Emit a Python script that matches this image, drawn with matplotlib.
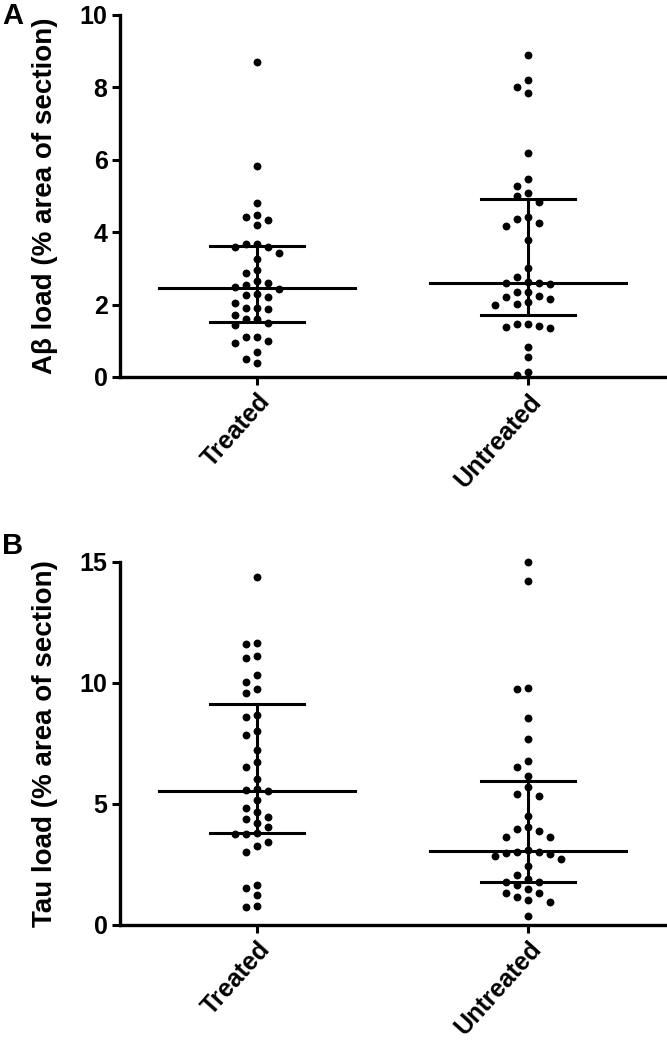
import numpy as np
import matplotlib
matplotlib.use('Agg')
import matplotlib.pyplot as plt

plt.rcParams['font.family'] = ['Liberation Sans', 'DejaVu Sans']
plt.rcParams['font.weight'] = 'bold'

groups = ['Treated', 'Untreated']

abeta_treated = [8.69, 5.84, 4.80, 4.43, 4.48, 4.34, 4.20, 3.67, 3.58, 3.58, 3.67, 3.42,
                 3.27, 2.96, 2.86, 2.61, 2.66, 2.54, 2.48, 2.42, 2.29, 2.27, 2.22, 2.04,
                 1.90, 1.90, 1.87, 1.71, 1.59, 1.48, 1.44, 1.11, 1.11, 0.99, 0.93, 0.68,
                 0.50, 0.40, 1.59]
abeta_untreated = [8.90, 8.20, 8.00, 7.85, 6.20, 5.46, 5.28, 5.07, 5.00, 4.84, 4.36, 4.41,
                   4.25, 4.18, 3.78, 3.00, 2.75, 2.59, 2.56, 2.63, 2.60, 2.36, 2.36, 2.24,
                   2.15, 2.20, 2.08, 1.99, 2.01, 1.46, 1.41, 1.36, 1.38, 1.46, 0.84, 0.54,
                   0.15, 0.05]
tau_treated = [14.38, 11.65, 11.60, 11.00, 11.10, 10.31, 10.04, 9.72, 9.56, 8.66, 8.57,
               8.01, 7.83, 7.21, 6.73, 6.52, 6.01, 5.59, 5.53, 5.55, 5.15, 4.80, 4.66,
               4.46, 4.35, 4.18, 4.02, 3.77, 3.74, 3.74, 3.40, 3.25, 3.00, 1.52, 1.63,
               1.21, 0.74, 0.76]
tau_untreated = [15.00, 14.21, 9.72, 9.79, 8.55, 7.66, 6.77, 6.50, 6.15, 5.70, 5.39, 5.32,
                 4.50, 3.95, 4.02, 3.88, 3.63, 3.63, 3.01, 2.90, 3.08, 2.84, 2.94, 3.01,
                 2.71, 2.42, 2.05, 1.88, 1.74, 1.74, 1.63, 1.47, 1.29, 1.31, 1.12, 1.01,
                 0.94, 0.36]

abeta_median = [2.45, 2.60]
abeta_q1 = [1.53, 1.71]
abeta_q3 = [3.63, 4.91]
tau_median = [5.53, 3.04]
tau_q1 = [3.77, 1.74]
tau_q3 = [9.12, 5.93]

W, H, DPI = 667, 1050, 100
fig = plt.figure(figsize=(W / DPI, H / DPI), dpi=DPI)

ax_left = 120 / W
ax_right = 665 / W
axA = fig.add_axes([ax_left, 1 - 377 / H, ax_right - ax_left, (377 - 15) / H])
axB = fig.add_axes([ax_left, 1 - 924.5 / H, ax_right - ax_left, (924.5 - 561.7) / H])

COL_W = 0.0406


def swarm_cols(values, px_per_unit, min_sep_px=9.5):
    values = np.asarray(values)
    order = np.argsort(values)[::-1]
    placed = []
    cols = np.zeros(len(values))
    for i in order:
        y = values[i] * px_per_unit
        for k in [0, -1, 1, -2, 2, -3, 3, -4, 4, -5, 5]:
            if all(not (c == k and abs(yy - y) < min_sep_px) for c, yy in placed):
                break
        placed.append((k, y))
        cols[i] = k
    return cols


def panel(ax, data, med, q1, q3, ymax, yticks, ylabel, letter, letter_y):
    ax.set_xlim(-0.5055, 1.5055)
    ax.set_ylim(0, ymax)
    fig.canvas.draw()
    ppu = ax.get_window_extent().height / ymax
    for gi, vals in enumerate(data):
        cols = swarm_cols(vals, ppu)
        ax.scatter(gi + cols * COL_W, vals, s=32, color='black', zorder=3,
                   linewidths=0, clip_on=False)
        ax.plot([gi - 0.36, gi + 0.36], [med[gi], med[gi]], color='black', lw=2.2, zorder=2)
        ax.plot([gi - 0.172, gi + 0.172], [q1[gi], q1[gi]], color='black', lw=2.2, zorder=2)
        ax.plot([gi - 0.172, gi + 0.172], [q3[gi], q3[gi]], color='black', lw=2.2, zorder=2)
        ax.plot([gi, gi], [q1[gi], q3[gi]], color='black', lw=2.2, zorder=2)
    ax.set_xticks([0, 1])
    ax.set_xticklabels(groups, rotation=48, ha='right', rotation_mode='anchor',
                       fontsize=18, fontweight='bold')
    ax.set_yticks(yticks)
    ax.set_yticklabels([str(t) for t in yticks], fontsize=18, fontweight='bold')
    ax.tick_params(axis='both', direction='out', length=6, width=2.2, pad=3)
    for s in ['top', 'right']:
        ax.spines[s].set_visible(False)
    for s in ['left', 'bottom']:
        ax.spines[s].set_linewidth(2.4)
    ax.set_ylabel(ylabel, fontsize=20, fontweight='bold')
    ax.yaxis.set_label_coords(-0.114, 0.5)
    fig.text(2 / W, 1 - letter_y / H, letter, fontsize=21, fontweight='bold',
             ha='left', va='center')


panel(axA, [abeta_treated, abeta_untreated], abeta_median, abeta_q1, abeta_q3,
      10, [0, 2, 4, 6, 8, 10], 'A\u03b2 load (% area of section)', 'A', 16)
panel(axB, [tau_treated, tau_untreated], tau_median, tau_q1, tau_q3,
      15, [0, 5, 10, 15], 'Tau load (% area of section)', 'B', 546)

fig.savefig('out.png', dpi=DPI, facecolor='white')
